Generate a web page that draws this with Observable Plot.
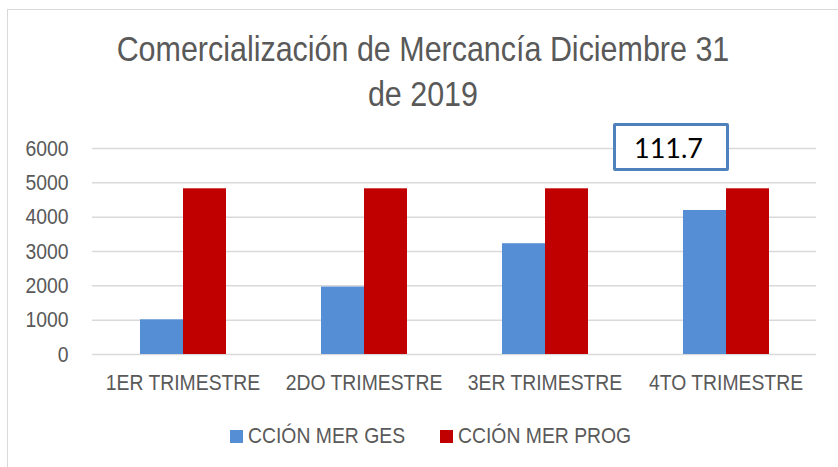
<!DOCTYPE html>
<html>
<head>
<meta charset="utf-8">
<script src="https://cdn.jsdelivr.net/npm/d3@7"></script>
<script src="https://cdn.jsdelivr.net/npm/@observablehq/plot@0.6"></script>
<style>
  html, body { margin: 0; padding: 0; background: #fff; }
  #wrap { position: relative; width: 838px; height: 467px; overflow: hidden; background: #fff; }
  #frame { position: absolute; left: 7px; top: 9px; width: 840px; height: 470px; border-top: 1.5px solid #d9d9d9; border-left: 1.5px solid #d9d9d9; box-sizing: border-box; }
  #title { position: absolute; left: 7px; width: 831px; top: 26px; text-align: center; font-family: "Liberation Sans", Arial, sans-serif; font-size: 35px; line-height: 45px; color: #595959; transform: scaleX(0.87); transform-origin: 419px 0; }
  #chart { position: absolute; left: 0; top: 130px; }
  #legend { position: absolute; top: 423px; left: 0; width: 838px; font-family: "Liberation Sans", Arial, sans-serif; font-size: 22px; color: #595959; }
  .li { position: absolute; top: 0; display: flex; align-items: center; height: 26px; white-space: nowrap; }
  .sw { width: 13px; height: 13px; margin-right: 5px; }
  .lt { display: inline-block; transform: scaleX(0.88); transform-origin: 0 50%; }
  #note { position: absolute; left: 613px; top: 123px; width: 116px; height: 48px; box-sizing: border-box; border: 3px solid #4f81bd; border-radius: 2px; background: #fff; font-family: Lato, "Liberation Sans", sans-serif; font-size: 27px; color: #000; padding-left: 18px; line-height: 44px; }
</style>
</head>
<body>
<div id="wrap">
  <div id="frame"></div>
  <div id="title"></div>
  <div id="chart"></div>
  <div id="note"></div>
  <div id="legend"></div>
</div>
<script>
const titleLines = ["Comercialización de Mercancía Diciembre 31", "de 2019"];
const quarters = ["1ER TRIMESTRE", "2DO TRIMESTRE", "3ER TRIMESTRE", "4TO TRIMESTRE"];
const seriesNames = ["CCIÓN MER GES", "CCIÓN MER PROG"];
const gesValues = [1010, 1965, 3227, 4195];
const progValues = [4826, 4826, 4826, 4826];
const yTicks = [0, 1000, 2000, 3000, 4000, 5000, 6000];
const seriesColors = ["#558ed5", "#c00000"];
const noteText = "111.7";

const data = [];
quarters.forEach((q, i) => {
  data.push({quarter: q, series: seriesNames[0], value: gesValues[i]});
  data.push({quarter: q, series: seriesNames[1], value: progValues[i]});
});

document.getElementById("title").innerHTML = titleLines.map(t => `<div>${t}</div>`).join("");
document.getElementById("note").textContent = noteText;

const font = '"Liberation Sans", Arial, sans-serif';

const chart = Plot.plot({
  width: 838,
  height: 270,
  marginLeft: 90,
  marginRight: 21,
  marginTop: 18,
  marginBottom: 46,
  style: {fontFamily: font, background: "transparent", overflow: "visible"},
  fx: {domain: quarters, padding: 0, label: null, axis: null},
  x: {domain: seriesNames, paddingInner: 0, paddingOuter: 1.09, axis: null},
  y: {domain: [0, 6000], axis: null},
  color: {domain: seriesNames, range: seriesColors},
  marks: [
    Plot.ruleY(yTicks, {stroke: "#d9d9d9", strokeWidth: 1.5}),
    Plot.barY(data, {fx: "quarter", x: "series", y: "value", fill: "series"}),
    Plot.axisY({ticks: yTicks, tickSize: 0, tickPadding: 24, fontSize: 22, fill: "#595959", label: null, tickFormat: d => String(d), facetAnchor: "left"}),
    Plot.axisFx({anchor: "bottom", tickSize: 0, tickPadding: 20, fontSize: 22, fill: "#595959", label: null})
  ]
});
// narrow the glyphs horizontally, as in the reference
d3.select(chart).selectAll("text").each(function() {
  const t = this.getAttribute("transform") || "";
  this.setAttribute("transform", (t + " scale(0.88,1)").trim());
});
document.getElementById("chart").appendChild(chart);

const legend = document.getElementById("legend");
const legendX = [230, 440];
seriesNames.forEach((s, i) => {
  const el = document.createElement("div");
  el.className = "li";
  el.style.left = legendX[i] + "px";
  el.innerHTML = `<span class="sw" style="background:${seriesColors[i]}"></span><span class="lt">${s}</span>`;
  legend.appendChild(el);
});
</script>
</body>
</html>
